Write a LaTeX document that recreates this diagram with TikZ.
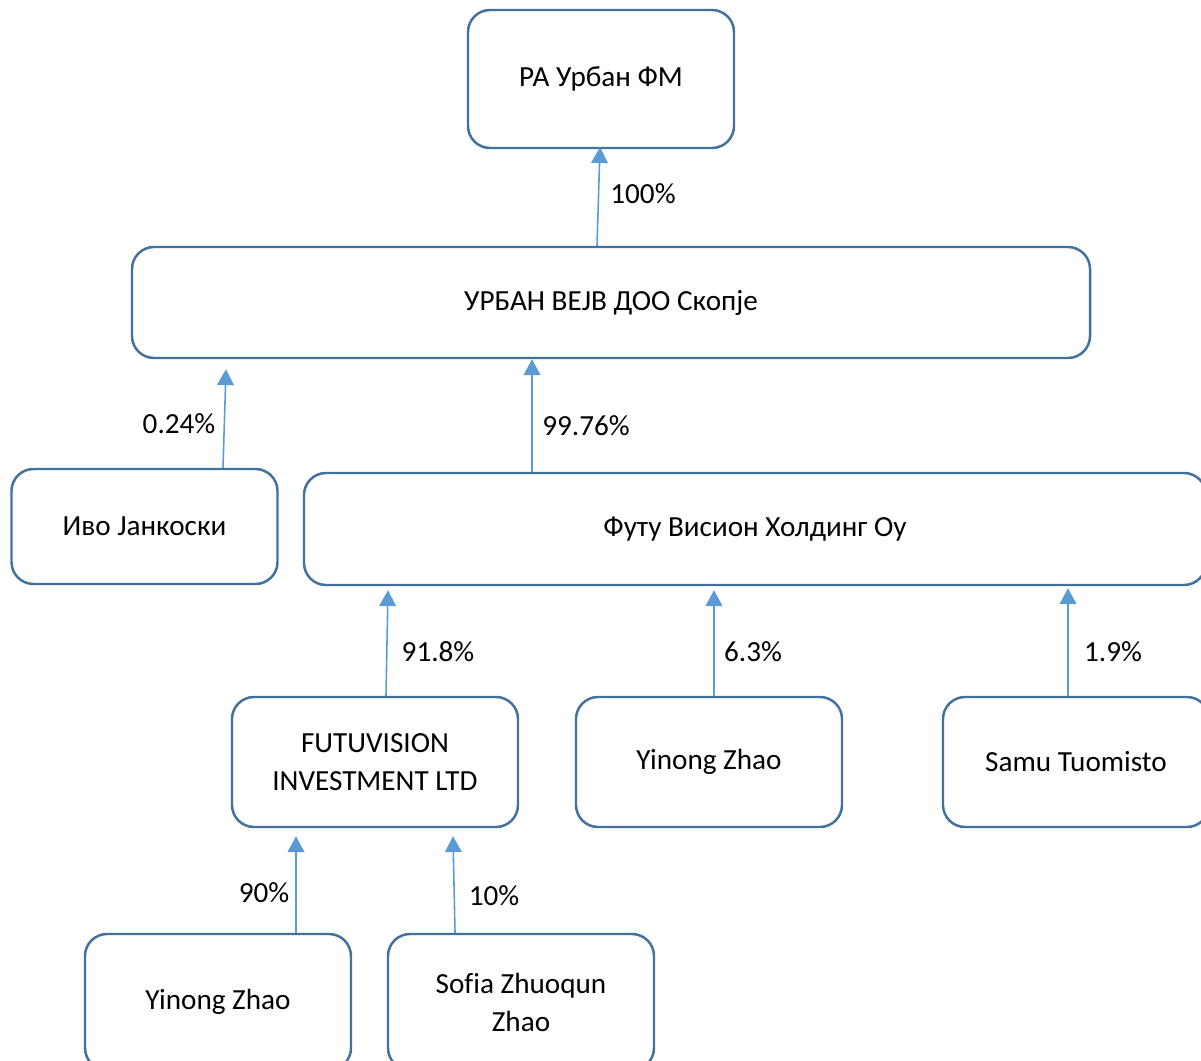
\documentclass[tikz,border=0pt]{standalone}
\usepackage{fontspec}
\setmainfont{Carlito}[Ligatures=NoCommon]
\usetikzlibrary{shapes,arrows.meta,calc,positioning}
\definecolor{boxline}{RGB}{65,113,156}
\definecolor{shareline}{RGB}{91,155,213}

\begin{document}
\begin{tikzpicture}[x=0.2mm,y=-0.2mm,
block/.style={
draw=boxline,
line width=1.4pt,
fill=white,
rectangle,
rounded corners=4.4mm,
align=center,
minimum width=53.2mm,
minimum height=26mm,
font=\fontsize{16.6}{21.6}\selectfont},
share/.style={draw=shareline,line width=0.9pt,-{Triangle[width=9.5pt,length=9pt]}},
pct/.style={font=\fontsize{16.6}{21.6}\selectfont}]
\useasboundingbox (0,0) rectangle (1201,1061);
\clip (0,0) rectangle (1201,1061);

% ownership chain, owners drawn below the company they hold
\node[block,minimum height=27.6mm](a) at (601,79) {РА Урбан ФМ};
\node[block,minimum width=191.6mm,minimum height=22.2mm](b) at (611,302.5) {УРБАН ВЕЈВ ДОО Скопје};
\node[block,minimum height=23mm](c) at (144.5,526.5) {Иво Јанкоски};
\node[block,minimum width=180.4mm,minimum height=22.4mm](d) at (755,529) {Футу Висион Холдинг Оу};
\node[block,minimum width=57.2mm](e) at (375,762) {FUTUVISION\\INVESTMENT LTD};
\node[block](f) at (709,762) {Yinong Zhao};
\node[block](g) at (1076,762) {Samu Tuomisto};
\node[block,minimum height=27.2mm](h) at (218,1002) {Yinong Zhao};
\node[block,minimum height=27.2mm](i) at (521,1002) {Sofia Zhuoqun\\Zhao};

\draw[share] ($(b.north)+(-14,0)$) -- ($(a.south)+(-1,-2)$);
\draw[share] ($(c.north)+(78.5,0)$) -- ($(b.south)+(-385,10)$);
\draw[share] ($(d.north)+(-223,0)$) -- ($(b.south)+(-79,0)$);
\draw[share] ($(e.north)+(11,0)$) -- ($(d.south)+(-367,4)$);
\draw[share] ($(f.north)+(5,0)$) -- ($(d.south)+(-41,4)$);
\draw[share] ($(g.north)+(-8,0)$) -- ($(d.south)+(313,2)$);
\draw[share] ($(h.north)+(78,0)$) -- ($(e.south)+(-79,8)$);
\draw[share] ($(i.north)+(-66,0)$) -- ($(e.south)+(78,8)$);

\node[pct](p1) at (643,194) {100\%};
\node[pct](p2) at (179,424) {0.24\%};
\node[pct](p3) at (586,426) {99.76\%};
\node[pct](p4) at (438,652) {91.8\%};
\node[pct](p5) at (753,652) {6.3\%};
\node[pct](p6) at (1113,652) {1.9\%};
\node[pct](p7) at (264,893) {90\%};
\node[pct](p8) at (494,896) {10\%};
\end{tikzpicture}
\end{document}
